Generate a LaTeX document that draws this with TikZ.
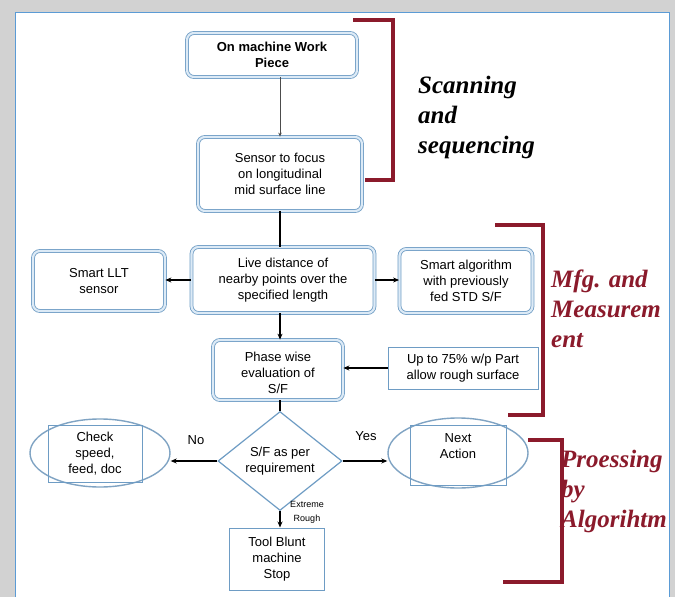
\documentclass[tikz,border=0pt]{standalone}
\usepackage{fontspec}
\setmainfont{Liberation Sans}
\newfontfamily\serifbi{Liberation Serif}[BoldItalicFont={Liberation Serif Bold Italic}]
\usetikzlibrary{shapes.geometric,arrows.meta}
\definecolor{boxblue}{HTML}{6E9CC4}
\definecolor{boxfill}{HTML}{DCEAF6}
\definecolor{elblue}{HTML}{7FA3C3}
\definecolor{brred}{HTML}{8B1A2B}
\definecolor{frameblue}{HTML}{5B9BD5}
\begin{document}
\begin{tikzpicture}[x=1pt,y=-1pt,
  dbox/.style={draw=boxblue, double=boxfill, double distance=2.2pt, line width=0.8pt,
    rounded corners=7pt, align=center, inner sep=0pt, font=\fontsize{13}{16}\selectfont},
  pbox/.style={draw=boxblue, line width=1pt, align=center, inner sep=0pt,
    font=\fontsize{13}{16}\selectfont},
  ell/.style={draw=elblue, ellipse, line width=1.4pt, inner sep=0pt},
  conn/.style={line width=1.5pt, -{Stealth[length=6pt,width=5pt]}},
  brk/.style={draw=brred, line width=4pt, line cap=rect},
  side/.style={font=\serifbi\bfseries\itshape\fontsize{25}{30}\selectfont, align=left, anchor=north west, inner sep=0pt},
  lbl/.style={font=\fontsize{13}{16}\selectfont, inner sep=0pt}
]
% frame
\useasboundingbox (0,0) rectangle (675,597);
\fill[gray!35] (0,0) rectangle (675,597);
\fill[white, draw=frameblue, line width=1pt] (15.5,12.5) rectangle (669,600);

% nodes
\node[dbox, minimum width=170, minimum height=44, font=\bfseries\fontsize{13}{16}\selectfont] (n1) at (272,55) {On machine Work\\Piece};
\node[dbox, minimum width=164, minimum height=74] (n2) at (280,174) {Sensor to focus\\on longitudinal\\mid surface line};
\node[dbox, minimum width=132, minimum height=60] (llt) at (99,281) {Smart LLT\\sensor};
\node[dbox, minimum width=183, minimum height=66] (live) at (283,280) {Live distance of\\nearby points over the\\specified length};
\node[dbox, minimum width=133, minimum height=64] (algo) at (466,281) {Smart algorithm\\with previously\\fed STD S/F};
\node[dbox, minimum width=130, minimum height=60] (phase) at (278,370) {};
\node[lbl, align=center] (phaset) at (278,373) {Phase wise\\evaluation of\\S/F};
\node[pbox, minimum width=150, minimum height=42] (up) at (463,368) {Up to 75\% w/p Part\\allow rough surface};
\node[draw=boxblue, line width=1.2pt, diamond, minimum width=124, minimum height=99, inner sep=0pt, align=center,
  font=\fontsize{13}{16}\selectfont] (dia) at (280,461) {S/F as per\\requirement};

\node[ell, minimum width=140, minimum height=68] (chk) at (100,453) {};
\node[pbox, minimum width=94, minimum height=57] (chkr) at (95,453.5) {Check\\speed,\\feed, doc};
\node[ell, minimum width=140, minimum height=70] (nxt) at (458,453) {};
\node[pbox, minimum width=96, minimum height=60] (nxtr) at (458,455) {};
\node[lbl, align=center] (nxtt) at (458,446) {Next\\Action};
\node[pbox, minimum width=95, minimum height=62] (tool) at (277,559) {Tool Blunt\\machine\\Stop};

% labels
\node[lbl] (no) at (196,440) {No};
\node[lbl] (yes) at (366,436) {Yes};
\node[font=\fontsize{9}{14}\selectfont, align=center, inner sep=0pt] (ext) at (307,512) {Extreme\\Rough};

% connectors
\draw[line width=0.8pt, draw=black!70, -{Stealth[length=4pt,width=3.5pt]}] (n1.south -| n2.north) -- (n2.north);
\draw[line width=1.5pt] (n2.south) -- (n2.south |- live.north);
\draw[conn] (live.west) -- (live.west -| llt.east);
\draw[conn] (live.east) -- (live.east -| algo.west);
\draw[conn] (live.south -| dia.north) -- (phase.north -| dia.north);
\draw[conn] (up.west) -- (up.west -| phase.east);
\draw[line width=1.5pt] (phase.south -| dia.north) -- (dia.north);
\draw[conn] (dia.west) -- (dia.west -| chk.east);
\draw[conn] (dia.east) -- (dia.east -| nxt.west);
\draw[conn] (dia.south) -- (dia.south |- tool.north);

% brackets
\draw[brk] (355,20) -- (393,20) -- (393,180) -- (367,180);
\draw[brk] (497,225) -- (543,225) -- (543,415) -- (510,415);
\draw[brk] (530,440) -- (562,440) -- (562,582) -- (505,582);

% side texts
\node[side] (t1) at (418,76) {Scanning\\and\\sequencing};
\node[side, text=brred] (t2) at (551,270) {Mfg. and\\Measurem\\ent};
\node[side, text=brred] (t3) at (561,450) {Proessing\\by\\Algorihtm};
\end{tikzpicture}
\end{document}
